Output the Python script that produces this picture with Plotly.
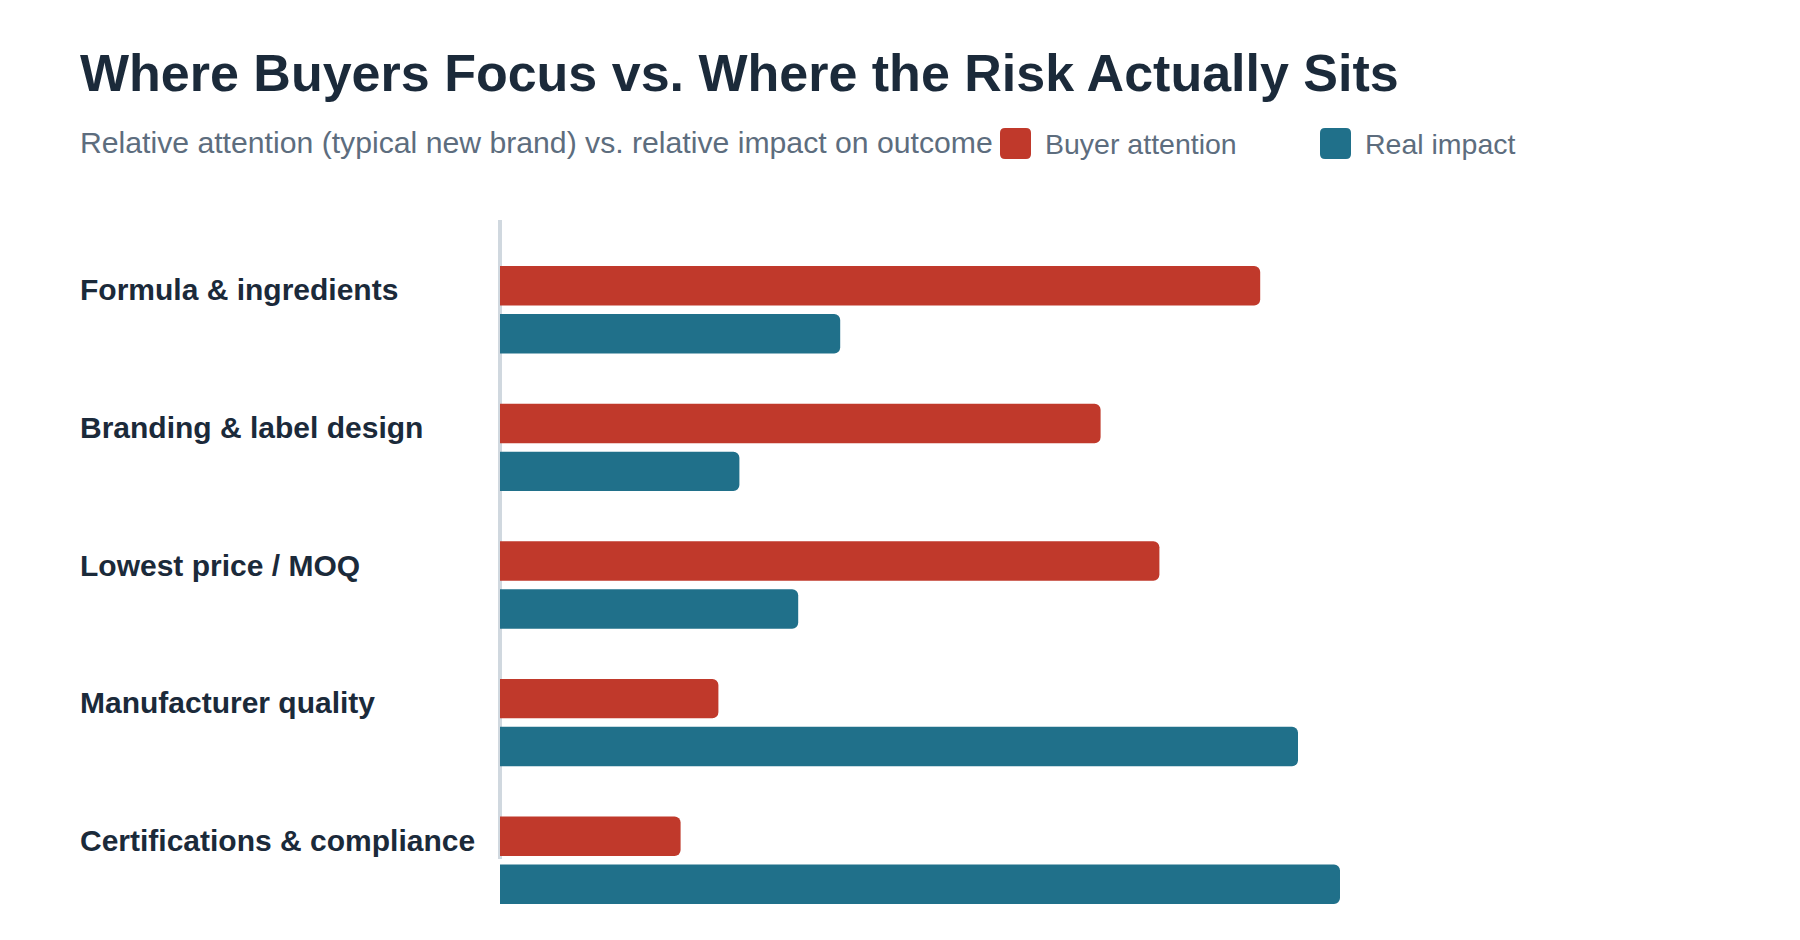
import plotly.graph_objects as go

# ---------------- data ----------------
categories = [
    "Formula & ingredients",
    "Branding & label design",
    "Lowest price / MOQ",
    "Manufacturer quality",
    "Certifications & compliance",
]
buyer_attention = [90.5, 71.5, 78.5, 26, 21.5]
real_impact = [40.5, 28.5, 35.5, 95, 100]
series_names = ["Buyer attention", "Real impact"]

title_text = "Where Buyers Focus vs. Where the Risk Actually Sits"
subtitle_text = "Relative attention (typical new brand) vs. relative impact on outcome"

# ---------------- style ----------------
RED = "#c0392b"
TEAL = "#20708a"
DARK = "#1b2a3a"
GRAY = "#5d6d7e"
AXIS = "#d0d8df"
FONT = "Liberation Sans, Arial, sans-serif"

W, H = 1800, 940
L, R, T, B = 500, 40, 241, 11
PW, PH = W - L - R, H - T - B


def px2x(px):
    return (px - L) / PW


def py2y(py):
    return (H - B - py) / PH


fig = go.Figure()
fig.add_trace(go.Bar(
    y=categories, x=buyer_attention, orientation="h", name=series_names[0],
    marker=dict(color=RED, line=dict(width=0)),
))
fig.add_trace(go.Bar(
    y=categories, x=real_impact, orientation="h", name=series_names[1],
    marker=dict(color=TEAL, line=dict(width=0)),
))

annotations = [
    dict(text="<b>" + title_text + "</b>", xref="paper", yref="paper",
         x=px2x(78), y=py2y(73), xanchor="left", yanchor="middle",
         showarrow=False, font=dict(size=52, color=DARK, family=FONT)),
    dict(text=subtitle_text, xref="paper", yref="paper",
         x=px2x(78), y=py2y(142), xanchor="left", yanchor="middle",
         showarrow=False, font=dict(size=30.2, color=GRAY, family=FONT)),
    dict(text=series_names[0], xref="paper", yref="paper",
         x=px2x(1043), y=py2y(144), xanchor="left", yanchor="middle",
         showarrow=False, font=dict(size=28.5, color=GRAY, family=FONT)),
    dict(text=series_names[1], xref="paper", yref="paper",
         x=px2x(1363), y=py2y(144), xanchor="left", yanchor="middle",
         showarrow=False, font=dict(size=28.5, color=GRAY, family=FONT)),
]
for c in categories:
    annotations.append(dict(
        text="<b>" + c + "</b>", xref="paper", yref="y",
        x=px2x(78), y=c, xanchor="left", yanchor="middle", yshift=20,
        showarrow=False, font=dict(size=30, color=DARK, family=FONT)))


def rounded_square(s, r):
    h = s / 2
    return (f"M{-h + r},{-h} L{h - r},{-h} Q{h},{-h} {h},{-h + r} "
            f"L{h},{h - r} Q{h},{h} {h - r},{h} L{-h + r},{h} "
            f"Q{-h},{h} {-h},{h - r} L{-h},{-h + r} Q{-h},{-h} {-h + r},{-h} Z")


shapes = [
    dict(type="line", xref="paper", yref="paper", x0=0, x1=0,
         y0=py2y(220), y1=py2y(859), line=dict(color=AXIS, width=4), layer="below"),
    dict(type="path", xref="paper", yref="paper", xsizemode="pixel", ysizemode="pixel",
         xanchor=px2x(1015.5), yanchor=py2y(143.5), path=rounded_square(31, 5),
         fillcolor=RED, line=dict(width=0)),
    dict(type="path", xref="paper", yref="paper", xsizemode="pixel", ysizemode="pixel",
         xanchor=px2x(1335.5), yanchor=py2y(143.5), path=rounded_square(31, 5),
         fillcolor=TEAL, line=dict(width=0)),
]

fig.update_layout(
    width=W, height=H,
    margin=dict(l=L, r=R, t=T, b=B, pad=0),
    paper_bgcolor="white", plot_bgcolor="white",
    barmode="group", bargap=0.303, bargroupgap=0.177, barcornerradius=6,
    showlegend=False,
    font=dict(family=FONT),
    xaxis=dict(range=[0, 150], visible=False, fixedrange=True),
    yaxis=dict(type="category", categoryorder="array", categoryarray=categories,
               range=[len(categories) - 0.5, -0.5], showticklabels=False,
               showgrid=False, zeroline=False, showline=False, ticks="", fixedrange=True),
    annotations=annotations,
    shapes=shapes,
)

fig.write_html("out.html")
